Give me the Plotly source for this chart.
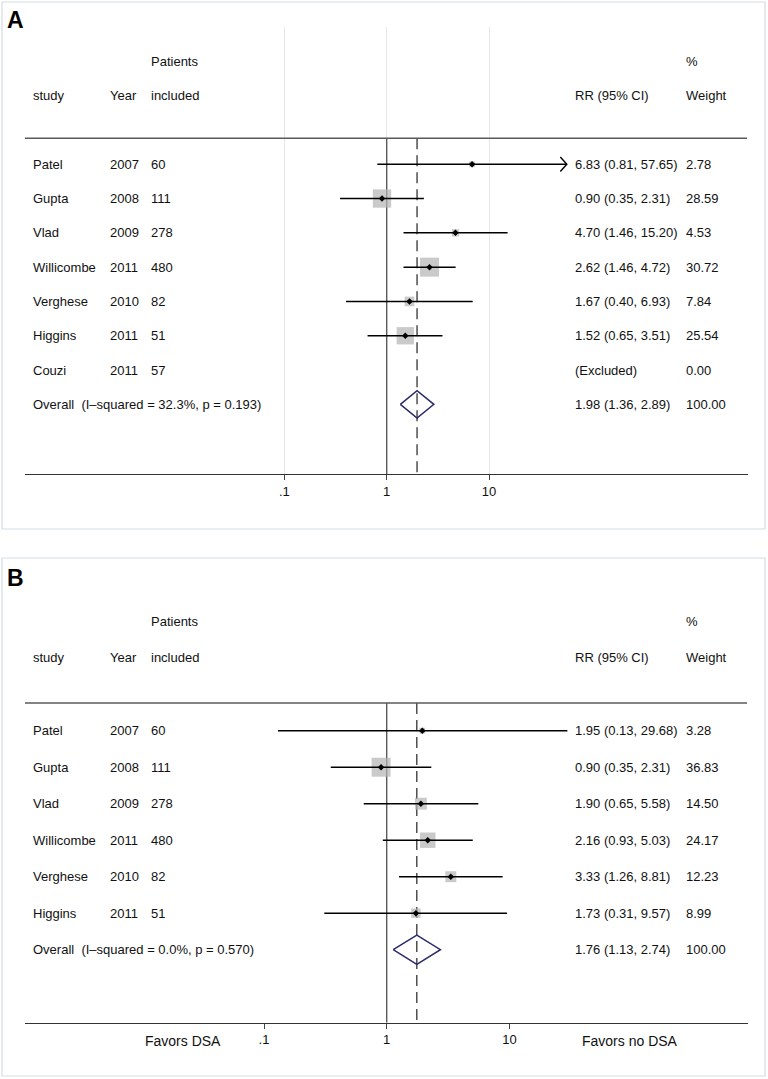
import math
import plotly.graph_objects as go

# ---------------- data ----------------
studies_a = ["Patel", "Gupta", "Vlad", "Willicombe", "Verghese", "Higgins", "Couzi"]
years_a = [2007, 2008, 2009, 2011, 2010, 2011, 2011]
patients_a = [60, 111, 278, 480, 82, 51, 57]
rr_a = [6.83, 0.90, 4.70, 2.62, 1.67, 1.52, None]
lo_a = [0.81, 0.35, 1.46, 1.46, 0.40, 0.65, None]
hi_a = [57.65, 2.31, 15.20, 4.72, 6.93, 3.51, None]
weight_a = [2.78, 28.59, 4.53, 30.72, 7.84, 25.54, 0.00]
arrow_a = ["Patel"]
overall_a = [1.98, 1.36, 2.89]
overall_label_a = "Overall\u00a0\u00a0(I\u2013squared = 32.3%, p = 0.193)"

studies_b = ["Patel", "Gupta", "Vlad", "Willicombe", "Verghese", "Higgins"]
years_b = [2007, 2008, 2009, 2011, 2010, 2011]
patients_b = [60, 111, 278, 480, 82, 51]
rr_b = [1.95, 0.90, 1.90, 2.16, 3.33, 1.73]
lo_b = [0.13, 0.35, 0.65, 0.93, 1.26, 0.31]
hi_b = [29.68, 2.31, 5.58, 5.03, 8.81, 9.57]
weight_b = [3.28, 36.83, 14.50, 24.17, 12.23, 8.99]
arrow_b = []
overall_b = [1.76, 1.13, 2.74]
overall_label_b = "Overall\u00a0\u00a0(I\u2013squared = 0.0%, p = 0.570)"

tick_vals = [0.1, 1, 10]
tick_text = [".1", "1", "10"]

# ---------------- layout constants ----------------
W, H = 768, 1079
FONT = "Liberation Sans, Arial, Helvetica, sans-serif"
BOX_MAX = 19.0
SQUARE_COLOR = "#b4b4b4"
DIAMOND_COLOR = "#2b2b6b"
TX = -2  # annotation padding compensation
COL_NAME, COL_YEAR, COL_N, COL_RR, COL_W = 33, 110, 151, 575, 686


def px(x):
    return x / W


def py(y):
    return 1 - y / H


fig = go.Figure()
annotations = []
shapes = []


def add_panel(idx, studies, years, patients, rr, lo, hi, weight, arrows, overall,
              overall_label, x_left, x_right, x_one, decade, y_top, y_axis,
              r_top, r_bot, show_grid, letter, letter_y, box):
    xa = "x" if idx == 1 else "x%d" % idx
    ya = "y" if idx == 1 else "y%d" % idx
    xname = "xaxis" if idx == 1 else "xaxis%d" % idx
    yname = "yaxis" if idx == 1 else "yaxis%d" % idx
    lo_log = (x_left - x_one) / decade
    hi_log = (x_right - x_one) / decade
    fig.layout[xname] = dict(
        type="log", range=[lo_log, hi_log], domain=[px(x_left), px(x_right)],
        anchor=ya, tickvals=tick_vals, ticktext=tick_text, ticks="outside",
        ticklen=5, tickwidth=1.2, tickcolor="#444", showline=True,
        linecolor="#333", linewidth=1.3, showgrid=show_grid,
        gridcolor="#e4e7ec", gridwidth=1, zeroline=False,
        tickfont=dict(family=FONT, size=13, color="#111"), fixedrange=True,
    )
    fig.layout[yname] = dict(
        range=[r_bot, r_top], domain=[py(y_axis), py(y_top)], anchor=xa,
        visible=False, fixedrange=True,
    )
    n = len(studies)
    rows = list(range(n))
    r_over = n
    r_head = -0.76

    # header line
    shapes.append(dict(type="line", xref="x domain" if idx == 1 else "x%d domain" % idx,
                       yref=ya, x0=0, x1=(747 - x_left) / (x_right - x_left),
                       y0=r_head, y1=r_head, line=dict(color="#5a5a5a", width=1.5)))
    # null line
    fig.add_trace(go.Scatter(x=[1, 1], y=[r_head, r_bot], mode="lines",
                             line=dict(color="#5a5a5a", width=1.4),
                             xaxis=xa, yaxis=ya, hoverinfo="skip"))
    # overall dashed line
    fig.add_trace(go.Scatter(x=[overall[0], overall[0]], y=[r_head, r_bot], mode="lines",
                             line=dict(color="#222", width=1.2, dash="11px,6px"),
                             xaxis=xa, yaxis=ya, hoverinfo="skip"))

    wmax = max(weight)
    sx, sy, ss, lx, ly, dx, dy = [], [], [], [], [], [], []
    for i in rows:
        if rr[i] is None:
            continue
        sx.append(rr[i]); sy.append(i)
        ss.append(BOX_MAX * math.sqrt(weight[i] / wmax))
        lx += [lo[i], hi[i], None]; ly += [i, i, None]
        dx.append(rr[i]); dy.append(i)
    fig.add_trace(go.Scatter(x=sx, y=sy, mode="markers",
                             marker=dict(symbol="square", size=ss, color=SQUARE_COLOR,
                                         line=dict(width=0)),
                             xaxis=xa, yaxis=ya, hoverinfo="skip"))
    fig.add_trace(go.Scatter(x=lx, y=ly, mode="lines",
                             line=dict(color="#000", width=1.5),
                             xaxis=xa, yaxis=ya, hoverinfo="skip"))
    fig.add_trace(go.Scatter(x=dx, y=dy, mode="markers",
                             marker=dict(symbol="diamond", size=5, color="#000"),
                             xaxis=xa, yaxis=ya, hoverinfo="skip"))
    # arrows for clipped CIs
    ax, ay = [], []
    back = 10 ** (6.5 / decade)
    for i in rows:
        if studies[i] in arrows:
            tip = hi[i]
            ax += [tip / back, tip, tip / back, None]
            ay += [i - 0.21, i, i + 0.21, None]
    if ax:
        fig.add_trace(go.Scatter(x=ax, y=ay, mode="lines",
                                 line=dict(color="#000", width=1.4),
                                 xaxis=xa, yaxis=ya, hoverinfo="skip"))
    # overall diamond
    est, olo, ohi = overall
    h = 0.4
    fig.add_trace(go.Scatter(x=[olo, est, ohi, est, olo], y=[r_over, r_over - h, r_over, r_over + h, r_over],
                             mode="lines", line=dict(color=DIAMOND_COLOR, width=1.5),
                             xaxis=xa, yaxis=ya, hoverinfo="skip"))

    def txt(x, r, s, size=13, anchor="left"):
        annotations.append(dict(xref="paper", yref=ya, x=px(x + TX), y=r, text=s,
                                showarrow=False, xanchor=anchor, yanchor="middle",
                                font=dict(family=FONT, size=size, color="#111")))

    # headers
    txt(COL_N, -3, "Patients")
    txt(COL_W, -3, "%")
    txt(COL_NAME, -2, "study")
    txt(COL_YEAR, -2, "Year")
    txt(COL_N, -2, "included")
    txt(COL_RR, -2, "RR (95% CI)")
    txt(COL_W, -2, "Weight")
    for i in rows:
        txt(COL_NAME, i, studies[i])
        txt(COL_YEAR, i, str(years[i]))
        txt(COL_N, i, str(patients[i]))
        if rr[i] is None:
            txt(COL_RR, i, "(Excluded)")
        else:
            txt(COL_RR, i, "%.2f (%.2f, %.2f)" % (rr[i], lo[i], hi[i]))
        txt(COL_W, i, "%.2f" % weight[i])
    txt(COL_NAME, r_over, overall_label)
    txt(COL_RR, r_over, "%.2f (%.2f, %.2f)" % (est, olo, ohi))
    txt(COL_W, r_over, "%.2f" % 100)

    annotations.append(dict(xref="paper", yref="paper", x=px(5), y=py(letter_y), text="<b>%s</b>" % letter,
                            showarrow=False, xanchor="left", yanchor="middle",
                            font=dict(family=FONT, size=23, color="#000")))
    shapes.append(dict(type="rect", xref="paper", yref="paper",
                       x0=px(box[0]), x1=px(box[2]), y0=py(box[1]), y1=py(box[3]),
                       line=dict(color="#d6dde1", width=1.2)))


add_panel(1, studies_a, years_a, patients_a, rr_a, lo_a, hi_a, weight_a, arrow_a,
          overall_a, overall_label_a, 25, 748, 386.7, 102.3, 27, 474, -4.0, 9.03,
          True, "A", 20.5, (2, 2, 765, 529))
add_panel(2, studies_b, years_b, patients_b, rr_b, lo_b, hi_b, weight_b, arrow_b,
          overall_b, overall_label_b, 25, 748, 386.7, 122.7, 584.7, 1022.7, -4.0, 8.0,
          False, "B", 578, (2, 558, 765, 1076))

annotations.append(dict(xref="paper", yref="paper", x=px(183), y=py(1041), text="Favors DSA",
                        showarrow=False, xanchor="center", yanchor="middle",
                        font=dict(family=FONT, size=14, color="#111")))
annotations.append(dict(xref="paper", yref="paper", x=px(630), y=py(1041), text="Favors no DSA",
                        showarrow=False, xanchor="center", yanchor="middle",
                        font=dict(family=FONT, size=14, color="#111")))

fig.update_layout(
    width=W, height=H, autosize=False,
    margin=dict(l=0, r=0, t=0, b=0, pad=0),
    paper_bgcolor="white", plot_bgcolor="white",
    showlegend=False, annotations=annotations, shapes=shapes,
)

fig.write_html("out.html", config={"displayModeBar": False},
               post_script="document.body.style.margin='0';document.body.style.overflow='hidden';")
